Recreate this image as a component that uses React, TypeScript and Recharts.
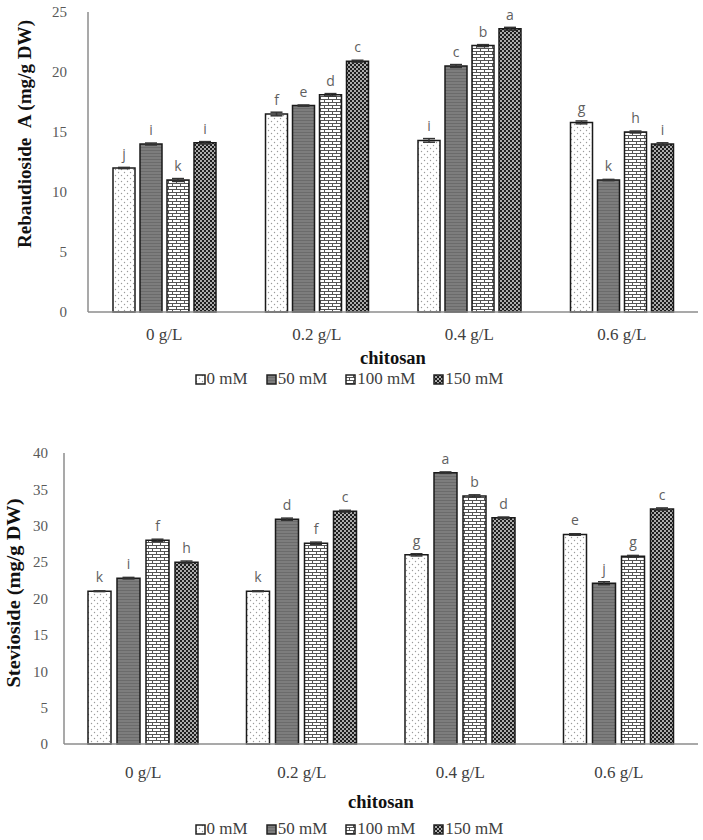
import React from 'react'
import { BarChart, Bar, XAxis, YAxis, Legend, LabelList, ErrorBar } from 'recharts'

const categories = ['0 g/L', '0.2 g/L', '0.4 g/L', '0.6 g/L']
const seriesNames = ['0 mM', '50 mM', '100 mM', '150 mM']

// Rebaudioside A (mg/g DW)
const rebA0 = [12.0, 16.5, 14.3, 15.8]
const rebA50 = [14.0, 17.2, 20.5, 11.0]
const rebA100 = [11.0, 18.1, 22.2, 15.0]
const rebA150 = [14.1, 20.9, 23.6, 14.0]
const rebAErr0 = [0.05, 0.15, 0.15, 0.12]
const rebAErr50 = [0.08, 0.05, 0.12, 0.05]
const rebAErr100 = [0.12, 0.1, 0.08, 0.08]
const rebAErr150 = [0.1, 0.08, 0.12, 0.1]
const rebALetters0 = ['j', 'f', 'i', 'g']
const rebALetters50 = ['i', 'e', 'c', 'k']
const rebALetters100 = ['k', 'd', 'b', 'h']
const rebALetters150 = ['i', 'c', 'a', 'i']
const rebATicks = [0, 5, 10, 15, 20, 25]

// Stevioside (mg/g DW)
const stev0 = [21.0, 21.0, 26.0, 28.8]
const stev50 = [22.8, 30.9, 37.3, 22.1]
const stev100 = [28.0, 27.6, 34.1, 25.8]
const stev150 = [25.0, 32.0, 31.1, 32.3]
const stevErr0 = [0.05, 0.05, 0.15, 0.1]
const stevErr50 = [0.1, 0.15, 0.1, 0.2]
const stevErr100 = [0.15, 0.15, 0.15, 0.12]
const stevErr150 = [0.15, 0.12, 0.1, 0.15]
const stevLetters0 = ['k', 'k', 'g', 'e']
const stevLetters50 = ['i', 'd', 'a', 'j']
const stevLetters100 = ['f', 'f', 'b', 'g']
const stevLetters150 = ['h', 'c', 'd', 'c']
const stevTicks = [0, 5, 10, 15, 20, 25, 30, 35, 40]

const SERIF = '"Liberation Serif", "Times New Roman", serif'
const SANS = '"Open Sans", "Liberation Sans", sans-serif'
const AXIS = '#8c8c8c'

const buildRows = (vals: number[][], errs: number[][]) =>
  categories.map((name, i) => ({
    name,
    s0: vals[0][i], s1: vals[1][i], s2: vals[2][i], s3: vals[3][i],
    e0: errs[0][i], e1: errs[1][i], e2: errs[2][i], e3: errs[3][i],
  }))

const rebARows = buildRows([rebA0, rebA50, rebA100, rebA150], [rebAErr0, rebAErr50, rebAErr100, rebAErr150])
const stevRows = buildRows([stev0, stev50, stev100, stev150], [stevErr0, stevErr50, stevErr100, stevErr150])

const patternDefs = (p: string) => (
  <defs>
    <pattern id={`${p}-dots`} width="6" height="6" patternUnits="userSpaceOnUse">
      <rect width="6" height="6" fill="#fff" />
      <circle cx="1.5" cy="1.5" r="0.7" fill="#9a9a9a" />
      <circle cx="4.5" cy="4.5" r="0.7" fill="#9a9a9a" />
    </pattern>
    <pattern id={`${p}-stripe`} width="4" height="3" patternUnits="userSpaceOnUse">
      <rect width="4" height="3" fill="#7d7d7d" />
      <rect y="0" width="4" height="1" fill="#6b6b6b" />
    </pattern>
    <pattern id={`${p}-brick`} width="8" height="6" patternUnits="userSpaceOnUse">
      <rect width="8" height="6" fill="#fff" />
      <rect x="0" y="0" width="8" height="1" fill="#555" />
      <rect x="0" y="3" width="8" height="1" fill="#555" />
      <rect x="0" y="0" width="1" height="3" fill="#555" />
      <rect x="4" y="3" width="1" height="3" fill="#555" />
    </pattern>
    <pattern id={`${p}-check`} width="4" height="4" patternUnits="userSpaceOnUse">
      <rect width="4" height="4" fill="#1e1e1e" />
      <circle cx="1" cy="1" r="0.95" fill="#e8e8e8" />
      <circle cx="3" cy="3" r="0.95" fill="#e8e8e8" />
    </pattern>
  </defs>
)

const fills = (p: string) => [`url(#${p}-dots)`, `url(#${p}-stripe)`, `url(#${p}-brick)`, `url(#${p}-check)`]

const letterContent = (letters: string[]) => (props: any) => {
  const { x, y, width, index } = props
  return (
    <text x={x + width / 2} y={y - 9} textAnchor="middle" fontFamily={SANS} fontSize={14}
      style={{ fill: '#5f5f5f', stroke: 'none' }}>
      {letters[index]}
    </text>
  )
}

const legendContent = (p: string) => () => (
  <div style={{ display: 'flex', justifyContent: 'center', alignItems: 'center', height: 18, lineHeight: '18px', fontFamily: SERIF, fontSize: 17, color: '#404040' }}>
    {seriesNames.map((n, i) => (
      <span key={n} style={{ display: 'flex', alignItems: 'center', marginRight: i < 3 ? 18 : 0 }}>
        <svg width={11} height={11} style={{ marginRight: 1 }}>
          <rect x={1} y={1} width={9} height={9} fill={fills(p)[i]} stroke="#222" strokeWidth={1.5} />
        </svg>
        {n}
      </span>
    ))}
  </div>
)

interface PanelProps {
  id: string
  rows: any[]
  letters: string[][]
  ticks: number[]
  yLabel: string
  yLabelLength: number
  height: number
  top: number
  yAxisWidth: number
  barSize: number
  barGap: number
  xAxisHeight: number
  xTickMargin: number
  yTickMargin: number
  xLabelDy: number
  yLabelX: number
  yLabelY: number
  bottomMargin: number
}

const Panel = (p: PanelProps) => {
  const f = fills(p.id)
  return (
    <BarChart width={703} height={p.height} data={p.rows} barSize={p.barSize} barGap={p.barGap}
      margin={{ top: p.top, right: 5, left: 0, bottom: p.bottomMargin }}>
      {patternDefs(p.id)}
      <XAxis dataKey="name" axisLine={{ stroke: AXIS, strokeWidth: 1.5 }} tickLine={false} tickSize={0}
        tickMargin={p.xTickMargin} height={p.xAxisHeight}
        tick={{ fontFamily: SERIF, fontSize: 17, fill: '#404040' }}
        label={(lp: any) => {
          const vb = lp.viewBox
          return (
            <text x={vb.x + vb.width / 2} y={vb.y + p.xLabelDy} textAnchor="middle" dominantBaseline="middle"
              fontFamily={SERIF} fontWeight="bold" fontSize={18.5} fill="#111">chitosan</text>
          )
        }} />
      <YAxis domain={[0, p.ticks[p.ticks.length - 1]]} ticks={p.ticks} width={p.yAxisWidth}
        axisLine={{ stroke: AXIS, strokeWidth: 1.5 }} tickLine={false} tickSize={0} tickMargin={p.yTickMargin}
        tick={{ fontFamily: SERIF, fontSize: 15, fill: '#595959' }}
        label={() => (
          <text x={p.yLabelX} y={p.yLabelY} textAnchor="middle" dominantBaseline="middle"
            transform={`rotate(-90 ${p.yLabelX} ${p.yLabelY})`} textLength={p.yLabelLength}
            lengthAdjust="spacingAndGlyphs"
            fontFamily={SERIF} fontWeight="bold" fontSize={18} fill="#111">{p.yLabel}</text>
        )} />
      <Legend verticalAlign="bottom" height={18} content={legendContent(p.id)} />
      {[0, 1, 2, 3].map((k) => (
        <Bar key={k} dataKey={`s${k}`} name={seriesNames[k]} fill={f[k]} stroke="#1a1a1a" strokeWidth={1.5}
          isAnimationActive={false}>
          <ErrorBar dataKey={`e${k}`} width={6} stroke="#333" strokeWidth={1.5} direction="y" />
          <LabelList dataKey={`s${k}`} content={letterContent(p.letters[k])} />
        </Bar>
      ))}
    </BarChart>
  )
}

export default function App() {
  return (
    <div style={{ position: 'absolute', left: 0, top: 0, width: 703, height: 840, background: '#fff' }}>
      <div style={{ position: 'absolute', left: 0, top: 0 }}>
        <Panel id="ra" rows={rebARows} letters={[rebALetters0, rebALetters50, rebALetters100, rebALetters150]}
          ticks={rebATicks} yLabel={'Rebaudioside\u00A0\u00A0A (mg/g DW)'} yLabelLength={228} height={398} top={12}
          yAxisWidth={88} barSize={22} barGap={5} xAxisHeight={58} xTickMargin={16} yTickMargin={21} xLabelDy={48}
          yLabelX={27} yLabelY={134} bottomMargin={10} />
      </div>
      <div style={{ position: 'absolute', left: 0, top: 398 }}>
        <Panel id="st" rows={stevRows} letters={[stevLetters0, stevLetters50, stevLetters100, stevLetters150]}
          ticks={stevTicks} yLabel="Stevioside (mg/g DW)" yLabelLength={189} height={442} top={55}
          yAxisWidth={64} barSize={23} barGap={6} xAxisHeight={76} xTickMargin={22} yTickMargin={16} xLabelDy={60}
          yLabelX={16} yLabelY={195} bottomMargin={2} />
      </div>
    </div>
  )
}
